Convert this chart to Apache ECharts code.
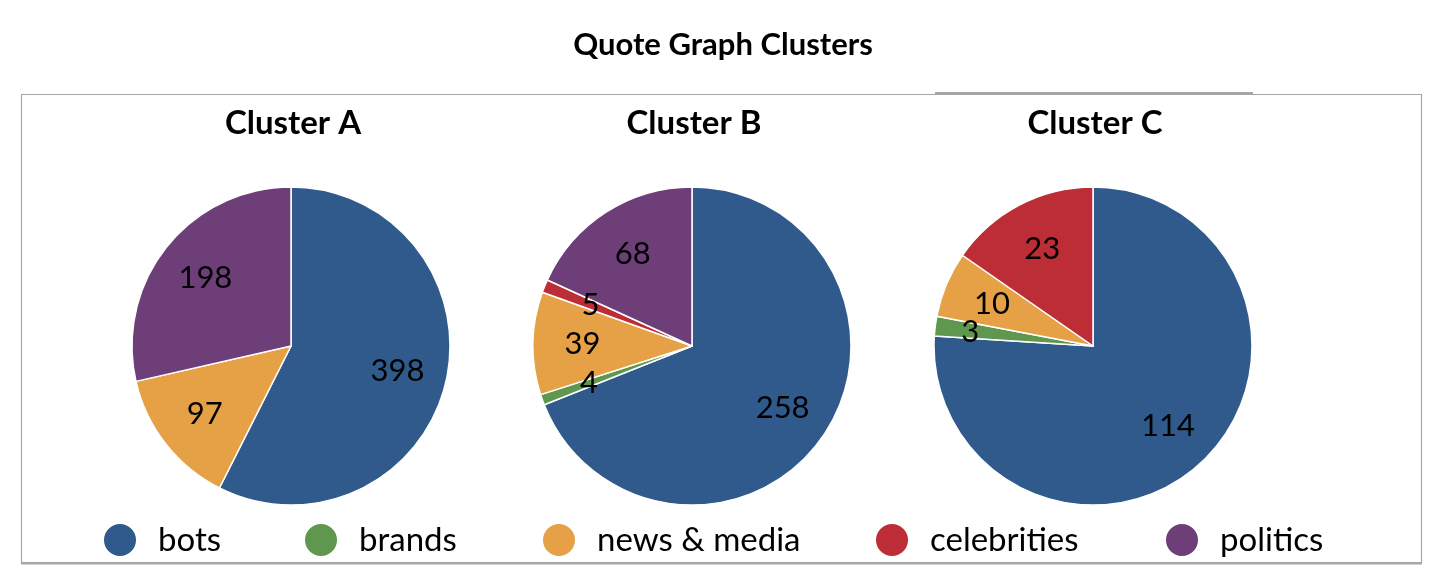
<!DOCTYPE html>
<html>
<head>
<meta charset="utf-8">
<script src="https://cdn.jsdelivr.net/npm/echarts@6/dist/echarts.min.js"></script>
<style>
  html, body { margin: 0; padding: 0; background: #fff; }
  #main { width: 1443px; height: 587px; }
</style>
</head>
<body>
<div id="main"></div>
<script>
// chart data
const categories = ["bots", "brands", "news & media", "celebrities", "politics"];
const clusterNames = ["Cluster A", "Cluster B", "Cluster C"];
const clusterA = [398, null, 97, null, 198];
const clusterB = [258, 4, 39, 5, 68];
const clusterC = [114, 3, 10, 23, null];
const clusters = [clusterA, clusterB, clusterC];

const colors = ["#2F5A8B", "#5E974D", "#E6A146", "#BD2D35", "#6E3E79"];
const font = "Lato, 'Open Sans', sans-serif";

// layout
const pieX = [291, 692, 1093];
const pieY = 346;
const pieR = 159;
const legendX = [102, 303, 541, 874, 1164];
// small label nudges where the labels would collide: "cluster:category" -> [dx, dy]
const labelNudge = { "2:1": [-14, 0] };

var myChart = echarts.init(document.querySelector("#main"));

function buildData(values, k, transparent) {
	var data = [];
	for (var i = 0; i < categories.length; i++) {
		if (values[i] == null) continue;
		var item = {
			name: categories[i],
			value: values[i],
			itemStyle: { color: transparent ? "rgba(0,0,0,0)" : colors[i] }
		};
		var nudge = labelNudge[k + ":" + i];
		if (transparent && nudge) {
			item.label = { offset: nudge };
		}
		data.push(item);
	}
	return data;
}

var titles = [{
	text: "Quote Graph Clusters",
	left: 718,
	top: 24,
	textAlign: "center",
	textStyle: { fontFamily: font, fontSize: 31, fontWeight: "bold", color: "#000" }
}];
var series = [];
var overlays = [];
for (var i = 0; i < clusters.length; i++) {
	titles.push({
		text: clusterNames[i],
		left: pieX[i] - 3,
		top: 102,
		textAlign: "center",
		textStyle: { fontFamily: font, fontSize: 33, fontWeight: "bold", color: "#000" }
	});
	series.push({
		type: "pie",
		center: [pieX[i], pieY],
		radius: [0, pieR],
		startAngle: 90,
		clockwise: true,
		label: { show: false },
		labelLine: { show: false },
		itemStyle: { borderColor: "#fff", borderWidth: 1.5 },
		data: buildData(clusters[i], i, false)
	});
	// invisible ring that only carries the value labels
	overlays.push({
		type: "pie",
		silent: true,
		avoidLabelOverlap: false,
		center: [pieX[i], pieY],
		radius: [pieR * 0.34, pieR],
		startAngle: 90,
		clockwise: true,
		label: {
			show: true,
			position: "inside",
			formatter: "{c}",
			fontFamily: font,
			fontSize: 31,
			color: "#000"
		},
		labelLayout: { hideOverlap: false },
		labelLine: { show: false },
		data: buildData(clusters[i], i, true)
	});
}

var legends = [];
for (var i = 0; i < categories.length; i++) {
	legends.push({
		data: [categories[i]],
		left: legendX[i],
		top: 522,
		padding: 0,
		icon: "circle",
		itemWidth: 34,
		itemHeight: 34,
		selectedMode: false,
		textStyle: { fontFamily: font, fontSize: 33, color: "#000", padding: [0, 0, 0, 16] }
	});
}

var option = {
	animation: false,
	backgroundColor: "#fff",
	title: titles,
	legend: legends,
	graphic: [
		{
			type: "rect",
			shape: { x: 21.5, y: 94.5, width: 1400, height: 468 },
			style: { fill: "none", stroke: "#A6A6A6", lineWidth: 1.2 },
			z: -1
		},
		{
			type: "line",
			shape: { x1: 21, y1: 563.5, x2: 1422, y2: 563.5 },
			style: { stroke: "#A6A6A6", lineWidth: 2 },
			z: -1
		},
		{
			type: "line",
			shape: { x1: 935, y1: 93, x2: 1253, y2: 93 },
			style: { stroke: "#A6A6A6", lineWidth: 2 },
			z: -1
		}
	],
	series: series.concat(overlays)
};

myChart.setOption(option);
</script>
</body>
</html>
